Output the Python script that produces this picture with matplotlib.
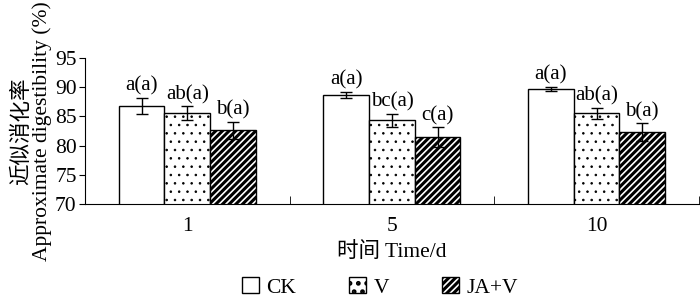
import matplotlib
matplotlib.use("Agg")
import matplotlib.pyplot as plt
import numpy as np

categories = ["1", "5", "10"]
series = ["CK", "V", "JA+V"]
ck = [86.8, 88.7, 89.7]
ck_err = [1.4, 0.5, 0.3]
v = [85.5, 84.3, 85.5]
v_err = [1.2, 1.1, 1.0]
jav = [82.6, 81.4, 82.3]
jav_err = [1.4, 1.7, 1.5]
labels_ck = ["a(a)", "a(a)", "a(a)"]
labels_v = ["ab(a)", "bc(a)", "ab(a)"]
labels_jav = ["b(a)", "c(a)", "b(a)"]

plt.rcParams['font.family'] = ['Liberation Serif', 'Noto Sans CJK SC']
plt.rcParams['hatch.linewidth'] = 2.2

fig = plt.figure(figsize=(7.0, 3.02), dpi=100)
ax = fig.add_axes([0.1214, 0.3245, 0.877, 0.4835])

x = np.arange(len(categories))
w = 0.223
vals = [ck, v, jav]
errs = [ck_err, v_err, jav_err]
labs = [labels_ck, labels_v, labels_jav]
hatches = [None, '..', '/////']
for i in range(3):
    pos = x + (i - 1) * w
    bars = ax.bar(pos, vals[i], w, bottom=0, color='white', edgecolor='black',
                  linewidth=1.0, hatch=hatches[i], label=series[i], zorder=2)
    if i == 1:
        for b in bars:
            if hasattr(b, 'set_hatch_linewidth'):
                b.set_hatch_linewidth(0.6)
    ax.errorbar(pos, vals[i], yerr=errs[i], fmt='none', ecolor='black',
                elinewidth=1.0, capsize=4, capthick=1.0, zorder=3)
    for p, val, e, t in zip(pos, vals[i], errs[i], labs[i]):
        ax.text(p, val + e + 0.4, t, ha='center', va='bottom', fontsize=15)

ax.set_ylim(70, 95)
ax.set_xlim(-0.5, 2.5)
ax.set_yticks([70, 75, 80, 85, 90, 95])
ax.tick_params(axis='y', direction='out', length=4, labelsize=15.5, pad=2)
ax.set_xticks(x)
ax.set_xticklabels(categories, fontsize=15.5)
ax.tick_params(axis='x', length=0, pad=9)
ax.set_xticks([0.5, 1.5, 2.5], minor=True)
ax.tick_params(axis='x', which='minor', direction='in', length=6)
ax.spines['top'].set_visible(False)
ax.spines['right'].set_visible(False)

ax.set_xlabel("时间 Time/d", fontsize=15.5, labelpad=5)
ax.set_ylabel("近似消化率\nApproximate digestibility (%)", fontsize=15.5,
              linespacing=1.0)
ax.yaxis.set_label_coords(-0.054, 0.5)

leg = fig.legend(loc='lower center', bbox_to_anchor=(0.543, -0.05), ncol=3, frameon=False,
                 fontsize=15.5, handlelength=0.8, handleheight=0.8, handletextpad=0.35,
                 columnspacing=2.45)

fig.savefig("out.png", dpi=100)
